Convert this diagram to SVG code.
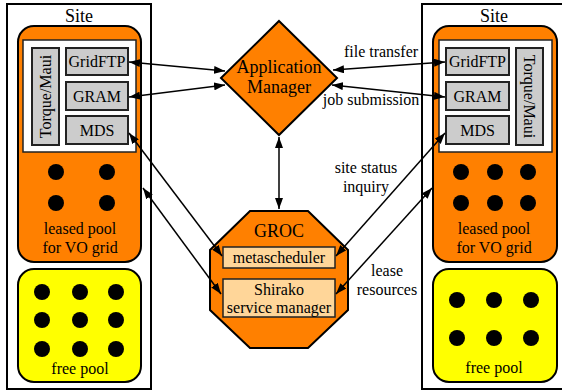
<svg xmlns="http://www.w3.org/2000/svg" width="562" height="392" viewBox="0 0 562 392" font-family="Liberation Serif, DejaVu Serif, serif">
<defs>
<marker id="ah" markerUnits="userSpaceOnUse" markerWidth="11" markerHeight="8" refX="11" refY="4" orient="auto-start-reverse" viewBox="0 0 11 8"><path d="M0,0 L11,4 L0,8 z" fill="#000"/></marker>
<style>
text{font-family:'Liberation Serif','DejaVu Serif',serif;font-size:16px;fill:#000;text-anchor:middle}
.site{fill:#fff;stroke:#000;stroke-width:2}
.orange{fill:#ff8000;stroke:#000;stroke-width:2}
.yellow{fill:#ffff00;stroke:#000;stroke-width:2}
.white{fill:#fff;stroke:#222;stroke-width:1.5}
.gray{fill:#cccccc;stroke:#222;stroke-width:2}
.light{fill:#ffd699;stroke:#222;stroke-width:1.5}
.dot{fill:#000}
.big{font-size:18px}
.conn line{stroke:#000;stroke-width:1.5;marker-start:url(#ah);marker-end:url(#ah)}
</style>
</defs>

<g id="site-left">
<rect class="site" x="7" y="4" width="144" height="385"/>
<text x="79" y="22" class="big">Site</text>
<rect class="orange" x="18" y="26" width="123" height="236" rx="16"/>
<rect class="white" x="23" y="40" width="113" height="112"/>
<rect class="gray" x="32" y="48" width="27" height="97"/>
<text transform="translate(51 96.5) rotate(-90)">Torque/Maui</text>
<g id="gridftp-left"><rect class="gray" x="66" y="48" width="62" height="27"/><text x="97" y="67">GridFTP</text></g>
<g id="gram-left"><rect class="gray" x="66" y="82" width="62" height="28"/><text x="97" y="102">GRAM</text></g>
<g id="mds-left"><rect class="gray" x="66" y="116" width="62" height="28"/><text x="97" y="136">MDS</text></g>
<circle class="dot" cx="56" cy="172" r="8"/><circle class="dot" cx="107" cy="172" r="8"/>
<circle class="dot" cx="56" cy="203" r="8"/><circle class="dot" cx="107" cy="203" r="8"/>
<text x="80" y="234">leased pool</text>
<text x="80" y="253">for VO grid</text>
<rect class="yellow" x="18" y="269" width="123" height="113" rx="16"/>
<circle class="dot" cx="42" cy="292" r="8"/><circle class="dot" cx="80" cy="292" r="8"/><circle class="dot" cx="116" cy="292" r="8"/>
<circle class="dot" cx="42" cy="320" r="8"/><circle class="dot" cx="80" cy="320" r="8"/><circle class="dot" cx="116" cy="320" r="8"/>
<circle class="dot" cx="42" cy="349" r="8"/><circle class="dot" cx="80" cy="349" r="8"/><circle class="dot" cx="116" cy="349" r="8"/>
<text x="80" y="374">free pool</text>
</g>

<g id="site-right">
<rect class="site" x="422" y="4" width="146" height="385"/>
<text x="494" y="22" class="big">Site</text>
<rect class="orange" x="433" y="26" width="124" height="236" rx="16"/>
<rect class="white" x="439" y="40" width="113" height="112"/>
<rect class="gray" x="516" y="48" width="27" height="97"/>
<text transform="translate(524 96.5) rotate(90)">Torque/Maui</text>
<g id="gridftp-right"><rect class="gray" x="446" y="48" width="63" height="27"/><text x="477.5" y="67">GridFTP</text></g>
<g id="gram-right"><rect class="gray" x="446" y="82" width="63" height="28"/><text x="477.5" y="102">GRAM</text></g>
<g id="mds-right"><rect class="gray" x="446" y="116" width="63" height="28"/><text x="477.5" y="136">MDS</text></g>
<circle class="dot" cx="461" cy="172" r="8"/><circle class="dot" cx="495" cy="172" r="8"/><circle class="dot" cx="528" cy="172" r="8"/>
<circle class="dot" cx="461" cy="203" r="8"/><circle class="dot" cx="495" cy="203" r="8"/><circle class="dot" cx="528" cy="203" r="8"/>
<text x="494" y="234">leased pool</text>
<text x="494" y="253">for VO grid</text>
<rect class="yellow" x="433" y="269" width="124" height="113" rx="16"/>
<circle class="dot" cx="457" cy="300" r="8"/><circle class="dot" cx="494" cy="300" r="8"/><circle class="dot" cx="531" cy="300" r="8"/>
<circle class="dot" cx="457" cy="338" r="8"/><circle class="dot" cx="494" cy="338" r="8"/><circle class="dot" cx="531" cy="338" r="8"/>
<text x="494" y="373">free pool</text>
</g>

<g id="app-manager">
<polygon class="orange" points="279,21 337,78 279,135 221,78"/>
<text x="279" y="73" class="big">Application</text>
<text x="279" y="93" class="big">Manager</text>
</g>

<g id="groc">
<polygon class="orange" points="250,211 308,211 348,250 348,310 308,348 250,348 210,310 210,250"/>
<text x="279" y="237" class="big">GROC</text>
<g id="metascheduler"><rect class="light" x="223" y="247" width="112" height="21"/><text x="279" y="263">metascheduler</text></g>
<g id="shirako"><rect class="light" x="223" y="279" width="112" height="38"/><text x="279" y="295">Shirako</text><text x="279" y="313">service manager</text></g>
</g>

<g id="connectors" class="conn">
<line x1="129" y1="62" x2="225" y2="71"/>
<line x1="129" y1="97" x2="225" y2="85"/>
<line x1="333" y1="70" x2="445" y2="62"/>
<line x1="332" y1="85" x2="445" y2="97"/>
<line x1="279" y1="137" x2="279" y2="209"/>
<line x1="129" y1="133" x2="222" y2="256"/>
<line x1="143" y1="188" x2="221" y2="294"/>
<line x1="336" y1="256" x2="445" y2="133"/>
<line x1="336" y1="294" x2="432" y2="188"/>
</g>

<g id="labels">
<text x="381" y="57">file transfer</text>
<text x="371" y="105">job submission</text>
<text x="366" y="173">site status</text>
<text x="366" y="192">inquiry</text>
<text x="387" y="276">lease</text>
<text x="387" y="295">resources</text>
</g>
</svg>
